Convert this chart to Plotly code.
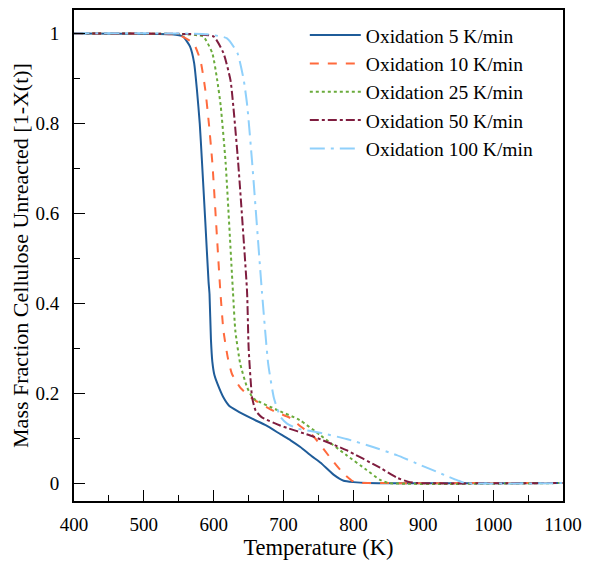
import plotly.graph_objects as go

# temperature (K) / mass fraction unreacted
t_5 = [400, 540, 556, 566, 572, 576, 580, 583, 588, 592.6, 594, 596, 598, 601, 605, 614, 622, 633, 655,
       675, 696, 710, 724, 740, 753, 772, 786, 800, 820, 1100]
m_5 = [1.0, 0.998, 0.993, 0.971, 0.934, 0.874, 0.80, 0.72, 0.58, 0.448, 0.42, 0.32, 0.27, 0.24, 0.222, 0.19, 0.172, 0.161, 0.143,
       0.128, 0.108, 0.095, 0.080, 0.060, 0.045, 0.018, 0.005, 0.002, 0.0, 0.0]

t_10 = [400, 540, 552, 571, 581, 588, 593, 598, 609.5, 614, 620, 626, 638, 655, 686, 709, 725, 742, 766,
        785, 797, 805, 820, 1100]
m_10 = [1.0, 0.998, 0.995, 0.978, 0.94, 0.874, 0.801, 0.713, 0.426, 0.338, 0.28, 0.243, 0.212, 0.188, 0.160, 0.145, 0.125, 0.105, 0.058,
        0.022, 0.006, 0.001, 0.0, 0.0]

t_25 = [400, 560, 585, 598, 605, 610, 617, 627.5, 631, 638, 648, 657, 690, 723, 752, 790, 819, 838, 850, 1100]
m_25 = [1.0, 0.998, 0.993, 0.956, 0.896, 0.839, 0.713, 0.426, 0.338, 0.265, 0.212, 0.188, 0.163, 0.140, 0.107, 0.062, 0.029, 0.007, 0.0, 0.0]

t_50 = [400, 575, 600, 614, 624, 628, 635, 647.7, 650, 655, 660, 669, 695, 743, 790, 838, 862, 878, 890, 1100]
m_50 = [1.0, 0.998, 0.993, 0.956, 0.896, 0.839, 0.713, 0.426, 0.30, 0.19, 0.161, 0.146, 0.128, 0.103, 0.073, 0.034, 0.012, 0.003, 0.0, 0.0]

t_100 = [400, 590, 619, 634, 643, 648, 655, 669, 678, 686, 691, 696, 705, 720, 752, 790, 828, 862, 896, 930, 949, 960, 1100]
m_100 = [1.0, 0.998, 0.989, 0.956, 0.896, 0.839, 0.713, 0.426, 0.265, 0.19, 0.165, 0.146, 0.132, 0.121, 0.112, 0.098, 0.080, 0.062, 0.040, 0.018, 0.006, 0.0, 0.0]

series = [
    ("Oxidation 5 K/min", t_5, m_5, "#1f5c99", "solid"),
    ("Oxidation 10 K/min", t_10, m_10, "#ff6a3d", "dash"),
    ("Oxidation 25 K/min", t_25, m_25, "#6aab3b", "dot"),
    ("Oxidation 50 K/min", t_50, m_50, "#7f1d3f", "dashdot"),
    ("Oxidation 100 K/min", t_100, m_100, "#8fd0fb", "longdashdot"),
]

FONT = "Liberation Serif"

fig = go.Figure()
for name, t, m, color, dash in series:
    fig.add_trace(go.Scatter(x=t, y=m, mode="lines", name=name,
                             line=dict(color=color, width=2, dash=dash, shape="spline", smoothing=0.5)))

axis_common = dict(
    showline=True, linecolor="black", linewidth=2, mirror=True,
    ticks="inside", ticklen=11, tickwidth=1.3, tickcolor="black",
    showgrid=False, zeroline=False,
    tickfont=dict(family=FONT, size=19, color="black"),
)

fig.update_xaxes(
    range=[400, 1100], dtick=100,
    minor=dict(ticks="inside", dtick=50, ticklen=6, tickwidth=1.3, tickcolor="black"),
    title=dict(text="Temperature (K)", font=dict(family=FONT, size=22.5, color="black"), standoff=4),
    ticklabelstandoff=5,
    **axis_common,
)
fig.update_yaxes(
    range=[-0.04, 1.052], dtick=0.2,
    minor=dict(ticks="inside", dtick=0.1, ticklen=6, tickwidth=1.3, tickcolor="black"),
    title=dict(text="Mass Fraction Cellulose Unreacted [1-X(t)]", font=dict(family=FONT, size=22, color="black"), standoff=6),
    ticklabelstandoff=9,
    **axis_common,
)

# page body has an 8px margin, so the figure is a little smaller than the window
fig.update_layout(
    width=583, height=556,
    margin=dict(l=66, r=28, t=0, b=63),
    plot_bgcolor="white", paper_bgcolor="white",
    font=dict(family=FONT, color="black"),
    legend=dict(x=0.472, y=0.988, xanchor="left", yanchor="top",
                bgcolor="rgba(0,0,0,0)", font=dict(family=FONT, size=19.5, color="black"),
                itemwidth=51),
)

fig.write_html("out.html")
